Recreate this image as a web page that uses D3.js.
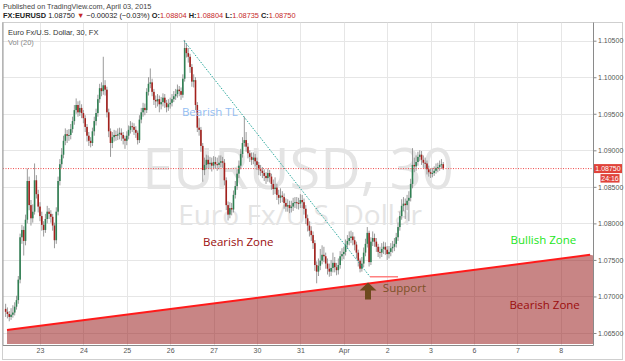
<!DOCTYPE html>
<html><head><meta charset="utf-8">
<script src="https://cdn.jsdelivr.net/npm/d3@7"></script>
<style>
html,body{margin:0;padding:0;background:#fff;}
svg{display:block;}
</style></head><body>
<svg id="c" width="625" height="361"></svg>
<script>
// ---- DATA (hourly EURUSD bars) ----
const firstOpen = 1.0683;
const closes = [
1.0679,1.0676,1.0672,1.0675,1.0678,1.0686,1.0695,1.0723,1.0781,1.0791,
1.0776,1.0805,1.0858,1.0825,1.0807,1.0816,1.0859,1.0840,1.0823,1.0810,
1.0798,1.0791,1.0806,1.0816,1.0813,1.0809,1.0797,1.0777,1.0816,1.0858,
1.0881,1.0894,1.0913,1.0922,1.0920,1.0921,1.0929,1.0940,1.0955,1.0962,
1.0952,1.0958,1.0951,1.0944,1.0932,1.0920,1.0913,1.0910,1.0926,1.0940,
1.0951,1.0970,1.0985,1.0981,1.0989,1.0983,1.0952,1.0926,1.0910,1.0918,
1.0921,1.0920,1.0922,1.0924,1.0921,1.0916,1.0913,1.0920,1.0928,1.0933,
1.0932,1.0928,1.0924,1.0914,1.0942,1.0952,1.0958,1.0955,1.0980,1.0991,
1.0993,1.0980,1.0969,1.0967,1.0970,1.0963,1.0966,1.0972,1.0965,1.0959,
1.0963,1.0965,1.0970,1.0974,1.0977,1.0983,1.0981,1.0976,1.0998,1.1040,
1.1033,1.1028,1.1014,1.0994,1.0996,1.0962,1.0931,1.0928,1.0906,1.0873,
1.0880,1.0887,1.0881,1.0883,1.0879,1.0884,1.0881,1.0880,1.0883,1.0885,
1.0883,1.0859,1.0825,1.0812,1.0821,1.0819,1.0839,1.0851,1.0868,1.0879,
1.0895,1.0910,1.0914,1.0905,1.0896,1.0891,1.0887,1.0890,1.0885,1.0880,
1.0874,1.0872,1.0869,1.0865,1.0862,1.0869,1.0864,1.0854,1.0847,1.0849,
1.0839,1.0835,1.0838,1.0836,1.0828,1.0823,1.0825,1.0821,1.0823,1.0828,
1.0829,1.0828,1.0827,1.0832,1.0829,1.0820,1.0807,1.0797,1.0790,1.0784,
1.0773,1.0743,1.0734,1.0742,1.0749,1.0757,1.0755,1.0745,1.0738,1.0734,
1.0739,1.0746,1.0740,1.0736,1.0743,1.0755,1.0758,1.0761,1.0771,1.0776,
1.0780,1.0782,1.0777,1.0771,1.0760,1.0749,1.0738,1.0745,1.0760,1.0772,
1.0787,1.0747,1.0775,1.0780,1.0775,1.0768,1.0761,1.0760,1.0765,1.0768,
1.0764,1.0758,1.0761,1.0766,1.0768,1.0772,1.0781,1.0795,1.0810,1.0824,
1.0827,1.0825,1.0831,1.0835,1.0854,1.0880,1.0878,1.0884,1.0891,1.0894,
1.0887,1.0883,1.0882,1.0874,1.0870,1.0868,1.0869,1.0872,1.0876,1.0877,
1.0880,1.0881,1.0875];
const highs = [
1.0690,1.0685,1.0680,1.0684,1.0688,1.0692,1.0701,1.0728,1.0786,1.0798,
1.0796,1.0812,1.0875,1.0864,1.0832,1.0826,1.0882,1.0866,1.0846,1.0829,
1.0816,1.0803,1.0813,1.0824,1.0821,1.0818,1.0813,1.0801,1.0822,1.0864,
1.0888,1.0903,1.0920,1.0930,1.0928,1.0929,1.0936,1.0946,1.0962,1.0971,
1.0967,1.0968,1.0963,1.0955,1.0948,1.0936,1.0925,1.0918,1.0931,1.0946,
1.0957,1.0976,1.0991,1.0993,1.1028,1.0996,1.0987,1.0957,1.0930,1.0925,
1.0928,1.0927,1.0930,1.0931,1.0930,1.0925,1.0920,1.0926,1.0934,1.0940,
1.0938,1.0937,1.0933,1.0927,1.0948,1.0958,1.0965,1.0964,1.0985,1.1000,
1.1012,1.0998,1.0984,1.0975,1.0977,1.0975,1.0973,1.0978,1.0977,1.0969,
1.0970,1.0972,1.0977,1.0981,1.0984,1.0990,1.0988,1.0986,1.1004,1.1051,
1.1046,1.1040,1.1032,1.1018,1.1004,1.1000,1.0966,1.0944,1.0932,1.0910,
1.0890,1.0894,1.0893,1.0891,1.0890,1.0892,1.0891,1.0890,1.0893,1.0893,
1.0891,1.0888,1.0863,1.0830,1.0829,1.0828,1.0845,1.0858,1.0874,1.0886,
1.0902,1.0918,1.0946,1.0925,1.0910,1.0900,1.0897,1.0897,1.0895,1.0890,
1.0884,1.0880,1.0877,1.0874,1.0870,1.0875,1.0873,1.0868,1.0860,1.0863,
1.0854,1.0846,1.0848,1.0844,1.0841,1.0834,1.0833,1.0831,1.0831,1.0835,
1.0836,1.0836,1.0835,1.0840,1.0839,1.0834,1.0825,1.0812,1.0803,1.0796,
1.0789,1.0777,1.0748,1.0752,1.0765,1.0770,1.0768,1.0760,1.0752,1.0745,
1.0750,1.0760,1.0754,1.0746,1.0752,1.0762,1.0766,1.0768,1.0778,1.0784,
1.0789,1.0790,1.0788,1.0782,1.0775,1.0764,1.0752,1.0754,1.0767,1.0779,
1.0795,1.0790,1.0781,1.0789,1.0786,1.0780,1.0772,1.0768,1.0773,1.0775,
1.0774,1.0769,1.0769,1.0773,1.0776,1.0780,1.0787,1.0801,1.0816,1.0833,
1.0836,1.0834,1.0839,1.0844,1.0861,1.0903,1.0890,1.0893,1.0898,1.0900,
1.0899,1.0893,1.0890,1.0886,1.0879,1.0875,1.0876,1.0878,1.0882,1.0883,
1.0886,1.0888,1.0884];
const lows = [
1.0672,1.0670,1.0666,1.0668,1.0671,1.0674,1.0682,1.0690,1.0718,1.0772,
1.0756,1.0770,1.0800,1.0818,1.0797,1.0801,1.0812,1.0834,1.0815,1.0803,
1.0790,1.0782,1.0787,1.0800,1.0806,1.0801,1.0790,1.0766,1.0772,1.0811,
1.0852,1.0876,1.0889,1.0907,1.0910,1.0913,1.0915,1.0924,1.0935,1.0950,
1.0946,1.0947,1.0944,1.0937,1.0925,1.0912,1.0906,1.0904,1.0906,1.0920,
1.0934,1.0946,1.0965,1.0974,1.0976,1.0975,1.0945,1.0918,1.0891,1.0903,
1.0912,1.0913,1.0914,1.0915,1.0913,1.0908,1.0902,1.0907,1.0915,1.0923,
1.0925,1.0921,1.0917,1.0908,1.0910,1.0937,1.0946,1.0948,1.0951,1.0975,
1.0985,1.0974,1.0962,1.0958,1.0960,1.0952,1.0956,1.0960,1.0958,1.0952,
1.0954,1.0957,1.0960,1.0966,1.0969,1.0972,1.0974,1.0969,1.0972,1.0994,
1.1027,1.1020,1.1006,1.0987,1.0986,1.0955,1.0925,1.0920,1.0898,1.0857,
1.0866,1.0874,1.0875,1.0874,1.0871,1.0874,1.0875,1.0872,1.0874,1.0877,
1.0876,1.0852,1.0818,1.0804,1.0807,1.0811,1.0815,1.0834,1.0846,1.0862,
1.0874,1.0890,1.0905,1.0898,1.0889,1.0884,1.0880,1.0881,1.0878,1.0873,
1.0866,1.0865,1.0862,1.0858,1.0854,1.0857,1.0856,1.0846,1.0839,1.0840,
1.0832,1.0826,1.0828,1.0829,1.0820,1.0816,1.0816,1.0814,1.0815,1.0817,
1.0821,1.0820,1.0819,1.0821,1.0821,1.0812,1.0799,1.0789,1.0782,1.0776,
1.0765,1.0735,1.0718,1.0728,1.0736,1.0744,1.0747,1.0738,1.0730,1.0727,
1.0728,1.0733,1.0733,1.0729,1.0730,1.0738,1.0749,1.0751,1.0756,1.0765,
1.0770,1.0773,1.0770,1.0763,1.0752,1.0741,1.0733,1.0734,1.0740,1.0755,
1.0767,1.0741,1.0743,1.0769,1.0768,1.0761,1.0754,1.0752,1.0754,1.0758,
1.0757,1.0750,1.0752,1.0755,1.0760,1.0762,1.0767,1.0776,1.0790,1.0805,
1.0817,1.0806,1.0818,1.0803,1.0830,1.0848,1.0870,1.0872,1.0879,1.0885,
1.0880,1.0876,1.0875,1.0867,1.0864,1.0862,1.0863,1.0865,1.0868,1.0870,
1.0872,1.0875,1.0873];
const dayLabels = ["23","24","25","26","27","30","31","Apr","2","3","6","7","8"];
const firstDayBar = 19;      // bar index of Mar 23 00:00
const barsPerDay = 24;
const priceTicks = [1.065,1.070,1.075,1.080,1.085,1.090,1.095,1.100,1.105];
const lastPrice = 1.08750;
const countdown = "24:16";
// annotation anchors in (bar, price)
const trendTL = [[98.6, 1.1050],[201.5, 1.0727]];
const supportLine = [[0.75, 1.0654],[323.2, 1.0757]];
const supportStub = [[201.5, 1.0727],[217.0, 1.0727]];

// ---- CHART ----
const svg = d3.select("#c");
const P = {left:3, right:593.5, top:22.5, bottom:345.5};
const x = d3.scaleLinear().domain([-1.46, 325.1]).range([P.left, P.right]);
const y = d3.scaleLinear().domain([1.065, 1.105]).range([333, 40.7]);
const FONT = "'Liberation Sans', Arial, sans-serif";
const WFONT = "'Open Sans', 'Noto Sans', sans-serif";

svg.append("rect").attr("width",625).attr("height",361).attr("fill","#fff");

// header
svg.append("text").attr("x",3).attr("y",8.5).attr("font-family",FONT)
  .attr("font-size",7.3).attr("fill","#444").text("Published on TradingView.com, April 03, 2015");
const h2 = svg.append("text").attr("x",3).attr("y",18).attr("font-family",FONT).attr("font-size",7.4).attr("fill","#222");
const parts = [["FX:EURUSD ","bold","#222"],["1.08750 ","normal","#222"],["\u25BC ","normal","#c62828"],
 ["\u22120.00032 (\u22120.03%) ","normal","#222"],["O:","bold","#222"],["1.08804 ","normal","#c62828"],
 ["H:","bold","#222"],["1.08804 ","normal","#c62828"],["L:","bold","#222"],["1.08735 ","normal","#c62828"],
 ["C:","bold","#222"],["1.08750","normal","#c62828"]];
h2.selectAll("tspan").data(parts).join("tspan").attr("font-weight",d=>d[1]).attr("fill",d=>d[2])
  .attr("xml:space","preserve").text(d=>d[0]);

// frame
svg.append("rect").attr("x",2.5).attr("y",P.top).attr("width",620).attr("height",359.5-P.top)
  .attr("fill","none").attr("stroke","#cfcfcf");

const defs = svg.append("defs");
defs.append("clipPath").attr("id","plotclip").append("rect")
  .attr("x",P.left).attr("y",P.top).attr("width",P.right-P.left).attr("height",P.bottom-P.top);
const g = svg.append("g").attr("clip-path","url(#plotclip)");

// grid
const dayBars = dayLabels.map((d,k)=>firstDayBar + k*barsPerDay);
g.selectAll(".vg").data(dayBars).join("line")
  .attr("x1",d=>Math.round(x(d))+0.5).attr("x2",d=>Math.round(x(d))+0.5)
  .attr("y1",P.top).attr("y2",P.bottom).attr("stroke","#e6e6e6");
g.selectAll(".hg").data(priceTicks).join("line")
  .attr("x1",P.left).attr("x2",P.right)
  .attr("y1",d=>Math.round(y(d))+0.5).attr("y2",d=>Math.round(y(d))+0.5).attr("stroke","#e6e6e6");

// watermark
g.append("text").attr("x",298).attr("y",189).attr("text-anchor","middle").attr("font-family",WFONT)
  .attr("font-size",56).attr("fill","#e4e4e4").text("EURUSD, 30");
g.append("text").attr("x",300).attr("y",225).attr("text-anchor","middle").attr("font-family",WFONT)
  .attr("font-size",28).attr("fill","#e4e4e4").text("Euro Fx/U.S. Dollar");

// bearish zone fill under support
const xEnd = x.domain()[1];
const zone = [supportLine[0], supportLine[1], [xEnd, 1.0756], [xEnd, y.invert(344)], [supportLine[0][0], y.invert(344)]];
g.append("path").attr("d", d3.line().x(d=>x(d[0])).y(d=>y(d[1]))(zone)+"Z")
  .attr("fill","rgb(150,22,22)").attr("fill-opacity",0.52);

// candles
const bars = closes.map((c,i)=>({i, o: i===0?firstOpen:closes[i-1], c, h: highs[i], l: lows[i]}));
g.selectAll(".wick").data(bars).join("line")
  .attr("x1",d=>x(d.i)).attr("x2",d=>x(d.i)).attr("y1",d=>y(d.h)).attr("y2",d=>y(d.l))
  .attr("stroke","#8f8f8f").attr("stroke-width",0.9);
g.selectAll(".body").data(bars).join("rect")
  .attr("x",d=>x(d.i)-0.8).attr("width",1.6)
  .attr("y",d=>y(Math.max(d.o,d.c)))
  .attr("height",d=>Math.max(1, Math.abs(y(d.o)-y(d.c))))
  .attr("fill",d=>d.c>=d.o?"#2f7f52":"#a3201c");

// trend line
const ln = d3.line().x(d=>x(d[0])).y(d=>y(d[1]));
g.append("path").attr("d",ln(trendTL)).attr("stroke","#26a69a").attr("stroke-width",1)
  .attr("stroke-dasharray","1.5,1.5").attr("fill","none");
// support stub + support line
g.append("path").attr("d",ln(supportStub)).attr("stroke","#ff8080").attr("stroke-width",1.3).attr("fill","none");
g.append("path").attr("d",ln(supportLine)).attr("stroke","#ff1a1a").attr("stroke-width",2).attr("fill","none");

// last price line
g.append("line").attr("x1",P.left).attr("x2",P.right).attr("y1",y(lastPrice)).attr("y2",y(lastPrice))
  .attr("stroke","#f04a4a").attr("stroke-width",1).attr("stroke-dasharray","1,1.5");

// annotations
const ann = [
  {t:"Bearish TL", bar:97.5, p:1.0953, c:"#93bdf2"},
  {t:"Bearish Zone", bar:109.2, p:1.0775, c:"#9b0d0d"},
  {t:"Bullish Zone", bar:279.2, p:1.0777, c:"#22e622"},
  {t:"Bearish Zone", bar:278.6, p:1.0689, c:"#9b0d0d"},
  {t:"Support", bar:208.6, p:1.0712, c:"#7d5228"}
];
g.selectAll(".ann").data(ann).join("text").attr("x",d=>x(d.bar)).attr("y",d=>y(d.p))
  .attr("dy","0.35em").attr("font-family",WFONT).attr("font-size",11.5).attr("fill",d=>d.c).text(d=>d.t);

// up arrow
const ax = x(200.4), ay = y(1.0719);
g.append("path").attr("d",`M${ax},${ay} L${ax+8.5},${ay+8} L${ax+3},${ay+8} L${ax+3},${ay+17} L${ax-3},${ay+17} L${ax-3},${ay+8} L${ax-8.5},${ay+8} Z`)
  .attr("fill","#6e4a1e");

// axes
const ya = svg.append("g").attr("transform",`translate(${P.right},0)`)
  .call(d3.axisRight(y).tickValues(priceTicks).tickFormat(d3.format(".5f")).tickSize(3).tickPadding(1.5));
ya.select(".domain").remove();
ya.selectAll("text").attr("font-family",FONT).attr("font-size",7).attr("fill","#555");
ya.selectAll("line").attr("stroke","#888");
svg.append("line").attr("x1",P.right).attr("x2",P.right).attr("y1",P.top).attr("y2",P.bottom).attr("stroke","#8a8a8a");

const xa = svg.append("g").attr("transform",`translate(0,${P.bottom})`)
  .call(d3.axisBottom(x).tickValues(dayBars).tickFormat((d,k)=>dayLabels[k]).tickSize(0).tickPadding(3));
xa.select(".domain").remove();
xa.selectAll("text").attr("font-family",FONT).attr("font-size",7).attr("fill","#555");
svg.append("line").attr("x1",P.left).attr("x2",P.right).attr("y1",P.bottom).attr("y2",P.bottom).attr("stroke","#8a8a8a");
svg.append("line").attr("x1",P.left).attr("x2",P.left).attr("y1",P.top).attr("y2",P.bottom).attr("stroke","#9a9a9a");

// price label
const yl = y(lastPrice);
svg.append("rect").attr("x",P.right+0.5).attr("y",yl-4.5).attr("width",28).attr("height",9).attr("fill","#e0433a");
svg.append("text").attr("x",P.right+14.5).attr("y",yl).attr("dy","0.35em").attr("text-anchor","middle")
  .attr("font-family",FONT).attr("font-size",7).attr("fill","#fff").text(d3.format(".5f")(lastPrice));
svg.append("rect").attr("x",P.right+7).attr("y",yl+5.5).attr("width",19).attr("height",8.5).attr("fill","#e0433a");
svg.append("text").attr("x",P.right+16.5).attr("y",yl+9.8).attr("dy","0.35em").attr("text-anchor","middle")
  .attr("font-family",FONT).attr("font-size",7).attr("fill","#fff").text(countdown);

// legend
svg.append("text").attr("x",8).attr("y",35).attr("font-family",FONT).attr("font-size",7.5).attr("fill","#333")
  .text("Euro Fx/U.S. Dollar, 30, FX");
svg.append("text").attr("x",8).attr("y",45).attr("font-family",FONT).attr("font-size",7.5).attr("fill","#888")
  .text("Vol (20)");
</script>
</body></html>
